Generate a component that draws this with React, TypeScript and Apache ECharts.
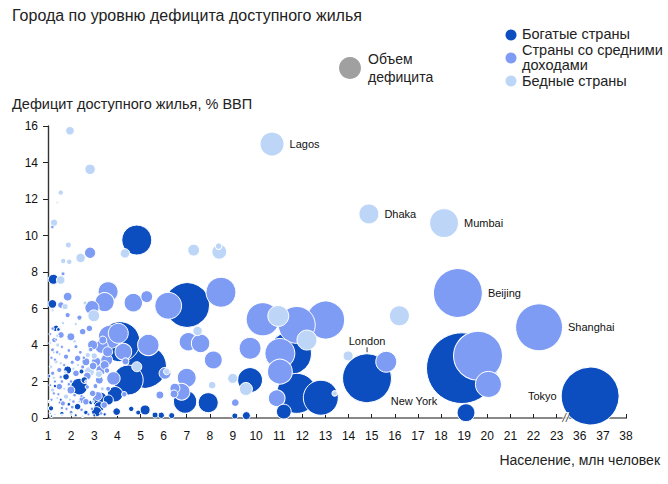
import { useEffect, useRef } from "react";
import * as echarts from "echarts";

type Bubble = [number, number, number, string?];

// [population (mln), deficit (% GDP), deficit volume, city name]
const richCountries: Bubble[] = [
  [14.8, 2.18, 120, "London"],
  [18.9, 2.73, 250, "New York"],
  [36.45, 1.2, 168, "Tokyo"],
  [19.08, 0.29, 16],
  [7.02, 6.19, 100],
  [4.84, 9.75, 45],
  [11.47, 3.54, 92],
  [11.76, 1.35, 80],
  [12.8, 1.11, 61],
  [11.2, 0.35, 11],
  [9.74, 2.08, 31],
  [7.93, 0.84, 20],
  [6.93, 0.9, 27],
  [4.11, 4.18, 80],
  [5.2, 2.81, 92],
  [4.47, 2.08, 45],
  [1.23, 7.6, 5],
  [1.19, 6.25, 3.7],
  [9.08, 0.11, 1.8],
  [9.58, 0.13, 3.2],
  [6.35, 0.13, 1.8],
  [5.9, 0.15, 2],
  [5.63, 0.16, 1.8],
  [3.25, 1.0, 12],
  [3.9, 1.3, 12],
  [5.2, 0.44, 5],
  [2.35, 1.72, 14],
  [1.35, 4.91, 2.2],
  [1.85, 2.63, 3.2],
  [1.78, 2.26, 2.2],
  [2.57, 2.08, 2.2],
  [2.28, 0.62, 2.2],
  [1.13, 0.53, 1.4],
  [3.22, 0.62, 5],
  [3.1, 0.35, 5],
  [3.97, 0.35, 3],
  [3.61, 0.99, 5],
  [2.64, 0.3, 1],
  [1.6, 0.25, 0.8],
  [2.0, 0.3, 0.6],
  [4.6, 0.5, 1.5],
  [4.9, 0.3, 1.2],
  [1.05, 2.3, 0.4],
  [1.3, 1.75, 0.5],
  [1.55, 1.0, 0.4],
  [1.9, 0.75, 0.6],
  [2.2, 0.15, 0.4],
  [2.85, 0.85, 0.8],
  [3.0, 0.15, 0.4],
  [3.45, 0.2, 0.5],
  [1.15, 0.1, 0.3],
  [2.45, 2.55, 1.2],
  [1.45, 4.85, 0.7],
];

const middleCountries: Bubble[] = [
  [18.73, 6.85, 120, "Beijing"],
  [22.24, 4.97, 110, "Shanghai"],
  [19.6, 3.41, 120],
  [20.05, 1.84, 34],
  [15.63, 3.08, 22],
  [13.01, 5.37, 72],
  [11.76, 5.1, 68],
  [10.29, 5.41, 55],
  [8.48, 6.89, 45],
  [6.2, 6.15, 36],
  [11.03, 3.54, 45],
  [11.03, 2.54, 31],
  [10.89, 1.08, 14],
  [9.74, 3.82, 24],
  [8.15, 3.18, 16],
  [9.1, 0.84, 3],
  [6.78, 1.44, 14],
  [7.0, 2.2, 18],
  [7.07, 4.18, 17],
  [7.6, 4.09, 17],
  [4.69, 6.32, 17],
  [5.27, 6.65, 7],
  [3.6, 6.92, 20],
  [3.45, 6.35, 18],
  [2.82, 9.06, 6.5],
  [1.85, 6.65, 3.7],
  [2.9, 6.05, 10],
  [5.84, 1.26, 3.2],
  [6.45, 1.32, 3.2],
  [6.06, 2.45, 7],
  [3.68, 4.45, 27],
  [4.04, 4.64, 20],
  [4.26, 3.63, 14],
  [5.34, 4.0, 23],
  [3.32, 3.91, 9],
  [3.54, 3.18, 7],
  [3.83, 2.17, 9],
  [6.49, 1.63, 5],
  [1.56, 6.19, 2.2],
  [1.85, 5.64, 1.4],
  [2.36, 5.5, 1.4],
  [2.79, 4.91, 2.2],
  [1.56, 4.55, 2.2],
  [1.99, 4.45, 3.2],
  [2.5, 4.73, 2.2],
  [2.93, 4.0, 5],
  [3.37, 4.27, 3.2],
  [3.58, 3.63, 5],
  [1.27, 4.27, 1.4],
  [1.2, 3.73, 0.8],
  [2.28, 3.27, 2.2],
  [1.78, 3.36, 1.4],
  [2.64, 3.08, 3.2],
  [3.08, 3.08, 4.4],
  [1.49, 2.63, 1.4],
  [1.2, 2.45, 0.8],
  [2.21, 2.45, 2.2],
  [3.29, 2.63, 5],
  [3.22, 2.08, 3.2],
  [1.49, 1.72, 2.2],
  [1.99, 1.53, 3.2],
  [2.93, 1.35, 2.2],
  [1.64, 0.8, 1.4],
  [2.64, 0.89, 2.2],
  [3.43, 0.71, 2.2],
  [2.21, 3.91, 0.8],
  [1.19, 10.47, 0.6],
  [1.65, 7.9, 0.8],
  [1.15, 1.0, 0.5],
  [1.45, 1.3, 0.5],
  [1.8, 0.5, 0.5],
  [2.1, 0.9, 0.6],
  [2.45, 1.2, 0.5],
  [2.9, 0.5, 0.6],
  [1.3, 3.2, 0.5],
  [1.6, 2.0, 0.6],
  [1.1, 1.8, 0.4],
  [1.7, 2.9, 0.5],
  [2.0, 2.0, 0.6],
  [2.55, 3.3, 0.6],
  [1.1, 4.6, 0.4],
  [1.2, 4.9, 0.6],
  [1.35, 4.3, 0.4],
  [1.15, 3.3, 0.5],
  [1.4, 3.6, 0.6],
  [1.6, 3.9, 0.5],
  [1.9, 3.7, 0.7],
  [2.05, 3.05, 0.8],
  [2.4, 3.6, 0.7],
  [2.5, 2.8, 0.8],
  [1.55, 2.25, 0.6],
  [1.3, 2.0, 0.5],
  [1.9, 1.85, 0.6],
  [2.15, 1.25, 0.7],
  [2.7, 1.7, 0.9],
  [3.05, 1.75, 1.2],
  [1.25, 1.35, 0.5],
  [1.6, 0.55, 0.6],
  [2.05, 0.6, 0.7],
  [2.45, 0.45, 0.6],
  [2.75, 0.2, 0.5],
  [3.3, 0.25, 0.6],
  [1.1, 0.25, 0.3],
  [1.5, 0.85, 0.4],
  [3.6, 1.6, 1.2],
  [3.55, 2.6, 1.5],
  [4.35, 3.1, 2.5],
  [4.3, 1.3, 1.5],
  [2.85, 3.75, 1.0],
  [2.7, 2.3, 3],
  [3.15, 1.2, 4],
  [2.5, 1.0, 3],
  [3.45, 2.9, 4],
  [2.95, 2.85, 3],
];

const poorCountries: Bubble[] = [
  [10.69, 15.01, 29, "Lagos"],
  [14.88, 11.18, 20, "Dhaka"],
  [18.13, 10.68, 42, "Mumbai"],
  [16.2, 5.6, 20],
  [13.98, 3.4, 5],
  [10.96, 5.59, 22],
  [12.2, 4.27, 20],
  [13.4, 1.35, 1.5],
  [9.56, 1.59, 8.5],
  [8.99, 2.17, 5],
  [8.1, 1.8, 3],
  [7.47, 4.77, 4.4],
  [4.33, 9.02, 4.4],
  [7.3, 9.2, 7],
  [8.41, 9.11, 11],
  [8.38, 9.42, 2.2],
  [2.41, 8.77, 4.4],
  [1.88, 9.48, 1.8],
  [1.66, 8.6, 1.5],
  [1.92, 8.56, 1.5],
  [1.55, 7.56, 3.7],
  [1.95, 15.74, 3.7],
  [2.82, 13.63, 5.6],
  [1.55, 12.35, 1.5],
  [1.4, 11.8, 0.2],
  [1.26, 10.7, 2.7],
  [1.74, 6.1, 1.8],
  [2.98, 5.6, 7],
  [4.84, 2.81, 5],
  [2.79, 2.54, 5],
  [6.13, 2.54, 2],
  [1.42, 4.0, 0.8],
  [1.35, 3.08, 0.8],
  [1.13, 2.81, 0.6],
  [1.2, 1.53, 0.8],
  [1.78, 1.17, 1.4],
  [2.72, 3.45, 1.4],
  [1.3, 0.2, 0.3],
  [1.6, 0.15, 0.3],
  [2.0, 0.2, 0.4],
  [2.5, 0.1, 0.3],
  [1.25, 2.2, 0.5],
  [1.5, 3.5, 0.5],
  [1.95, 1.0, 0.5],
  [2.3, 2.9, 0.5],
  [1.4, 4.5, 0.5],
  [2.15, 4.2, 0.6],
  [1.1, 4.1, 0.4],
  [1.25, 3.6, 0.4],
  [1.55, 3.0, 0.5],
  [1.75, 2.5, 0.5],
  [2.1, 2.7, 0.5],
  [1.4, 1.1, 0.4],
  [1.7, 1.6, 0.4],
  [2.35, 0.9, 0.4],
  [2.65, 2.0, 0.5],
  [1.05, 0.9, 0.3],
  [2.95, 0.9, 0.5],
  [3.35, 1.6, 0.8],
  [1.65, 5.2, 0.5],
  [1.2, 5.9, 0.4],
  [2.2, 5.15, 0.5],
  [2.6, 6.3, 0.8],
  [3.2, 2.4, 2.5],
  [3.0, 3.4, 2],
];

const xTickLabels = [
  "1", "2", "3", "4", "5", "6", "7", "8", "9", "10", "11", "12",
  "13", "14", "15", "16", "17", "18", "19", "20", "21", "22", "23",
  "36", "37", "38",
];
const axisBreakAt = 22.4; // axis position of the "//" break between 23 and 36

const TITLE = "Города по уровню дефицита доступного жилья";
const Y_NAME = "Дефицит доступного жилья, % ВВП";
const X_NAME = "Население, млн человек";
const LEGEND_RICH = "Богатые страны";
const LEGEND_MID_1 = "Страны со средними";
const LEGEND_MID_2 = "доходами";
const LEGEND_POOR = "Бедные страны";
const SIZE_LEGEND = "Объем\nдефицита";

const COLORS = { rich: "#0C4DBF", middle: "#7F9CF5", poor: "#BDD6F8" };
const FONT = "'Liberation Sans', Arial, Helvetica, sans-serif";

// population -> broken axis position (1..23 continuous, then 36..38)
const toAxis = (pop: number) => (pop <= 23 ? pop - 1 : 23 + (pop - 36));

const labelStyles: Record<string, any> = {
  Lagos: { position: "right", distance: 5 },
  Dhaka: { position: "right", distance: 5 },
  Mumbai: { position: "right", distance: 5 },
  Beijing: { position: "right", distance: 5 },
  Shanghai: { position: "right", distance: 5 },
  Tokyo: { position: "left", distance: 4 },
  "New York": { position: [-12, 69], align: "center", verticalAlign: "middle" },
  London: {
    position: "top",
    distance: 1,
    formatter: "{a|London}\n{b|}",
    rich: {
      a: { fontSize: 11, fontFamily: FONT, color: "#111", align: "center", lineHeight: 13 },
      b: { width: 1, height: 5, backgroundColor: "#333", align: "center" },
    },
  },
};

export default function App() {
  const ref = useRef<HTMLDivElement>(null);

  useEffect(() => {
    if (!ref.current) return;
    const chart = echarts.init(ref.current, undefined, { renderer: "svg" });

    const all: { b: Bubble; color: string }[] = [
      ...richCountries.map((b) => ({ b, color: COLORS.rich })),
      ...middleCountries.map((b) => ({ b, color: COLORS.middle })),
      ...poorCountries.map((b) => ({ b, color: COLORS.poor })),
    ].sort((p, q) => q.b[2] - p.b[2]);

    const data = all.map(({ b, color }) => {
      const item: any = {
        value: [toAxis(b[0]), b[1], b[2]],
        itemStyle: { color },
      };
      if (b[3]) {
        item.name = b[3];
        item.label = {
          show: true,
          formatter: b[3],
          color: "#111",
          fontSize: 11,
          fontFamily: FONT,
          ...labelStyles[b[3]],
        };
      }
      return item;
    });

    chart.setOption({
      animation: false,
      textStyle: { fontFamily: FONT },
      grid: { left: 48, right: 42, top: 126, bottom: 66, show: false },
      xAxis: [
        {
          type: "value",
          min: 0,
          max: 25,
          interval: 1,
          axisLine: { lineStyle: { color: "#222", width: 1.2 } },
          axisTick: { inside: true, length: 4, lineStyle: { color: "#222" } },
          axisLabel: {
            margin: 12,
            color: "#111",
            fontSize: 12,
            fontFamily: FONT,
            formatter: (v: number) => xTickLabels[Math.round(v)] ?? "",
          },
          splitLine: { show: false },
        },
        {
          type: "value",
          position: "top",
          min: 0,
          max: 25,
          axisLine: { show: true, lineStyle: { color: "#888", width: 2 } },
          axisTick: { show: false },
          axisLabel: { show: false },
          splitLine: { show: false },
        },
      ],
      yAxis: [
        {
          type: "value",
          min: 0,
          max: 16,
          interval: 2,
          axisLine: { show: true, lineStyle: { color: "#222", width: 1.2 } },
          axisTick: { show: true, inside: false, length: 5, lineStyle: { color: "#222" } },
          axisLabel: { margin: 10, color: "#111", fontSize: 12, fontFamily: FONT },
          splitLine: { show: false },
        },
        {
          type: "value",
          position: "right",
          min: 0,
          max: 16,
          axisLine: { show: true, lineStyle: { color: "#333", width: 1.2 } },
          axisTick: { show: false },
          axisLabel: { show: false },
          splitLine: { show: false },
        },
      ],
      series: [
        {
          type: "scatter",
          xAxisIndex: 0,
          yAxisIndex: 0,
          data,
          symbol: "circle",
          symbolSize: (v: number[]) => Math.sqrt(v[2] * 20),
          itemStyle: { borderColor: "#fff", borderWidth: 1, opacity: 1 },
          emphasis: { disabled: true },
          labelLayout: { hideOverlap: false },
          z: 2,
        },
        {
          type: "scatter",
          xAxisIndex: 0,
          yAxisIndex: 0,
          data: [[axisBreakAt, 0]],
          symbolSize: 0,
          silent: true,
          z: 5,
          label: {
            show: true,
            position: "inside",
            formatter: "//",
            fontSize: 12,
            fontStyle: "italic",
            color: "#222",
            fontFamily: FONT,
            backgroundColor: "#fff",
          },
        },
      ],
      graphic: [
        {
          type: "text",
          left: 12,
          top: 7,
          style: { text: TITLE, font: `16px ${FONT}`, fill: "#222" },
        },
        {
          type: "text",
          left: 12,
          top: 96,
          style: { text: Y_NAME, font: `14.5px ${FONT}`, fill: "#222" },
        },
        {
          type: "text",
          right: 8,
          top: 453,
          style: { text: X_NAME, font: `14px ${FONT}`, fill: "#222" },
        },
        { type: "circle", shape: { cx: 350, cy: 68, r: 11 }, style: { fill: "#A0A0A0" } },
        {
          type: "text",
          left: 368,
          top: 50,
          style: { text: SIZE_LEGEND, font: `14px ${FONT}`, fill: "#222", lineHeight: 18 },
        },
        { type: "circle", shape: { cx: 511, cy: 35, r: 5.5 }, style: { fill: COLORS.rich } },
        { type: "circle", shape: { cx: 511, cy: 58, r: 5.5 }, style: { fill: COLORS.middle } },
        { type: "circle", shape: { cx: 511, cy: 81, r: 5.5 }, style: { fill: COLORS.poor } },
        {
          type: "text",
          left: 522,
          top: 26,
          style: { text: LEGEND_RICH, font: `14.5px ${FONT}`, fill: "#222" },
        },
        {
          type: "text",
          left: 522,
          top: 42,
          style: { text: LEGEND_MID_1 + "\n" + LEGEND_MID_2, font: `14.5px ${FONT}`, fill: "#222", lineHeight: 15 },
        },
        {
          type: "text",
          left: 522,
          top: 73,
          style: { text: LEGEND_POOR, font: `14.5px ${FONT}`, fill: "#222" },
        },
      ],
    });

    return () => chart.dispose();
  }, []);

  return <div ref={ref} style={{ width: 668, height: 484, position: "absolute", left: 0, top: 0 }} />;
}
